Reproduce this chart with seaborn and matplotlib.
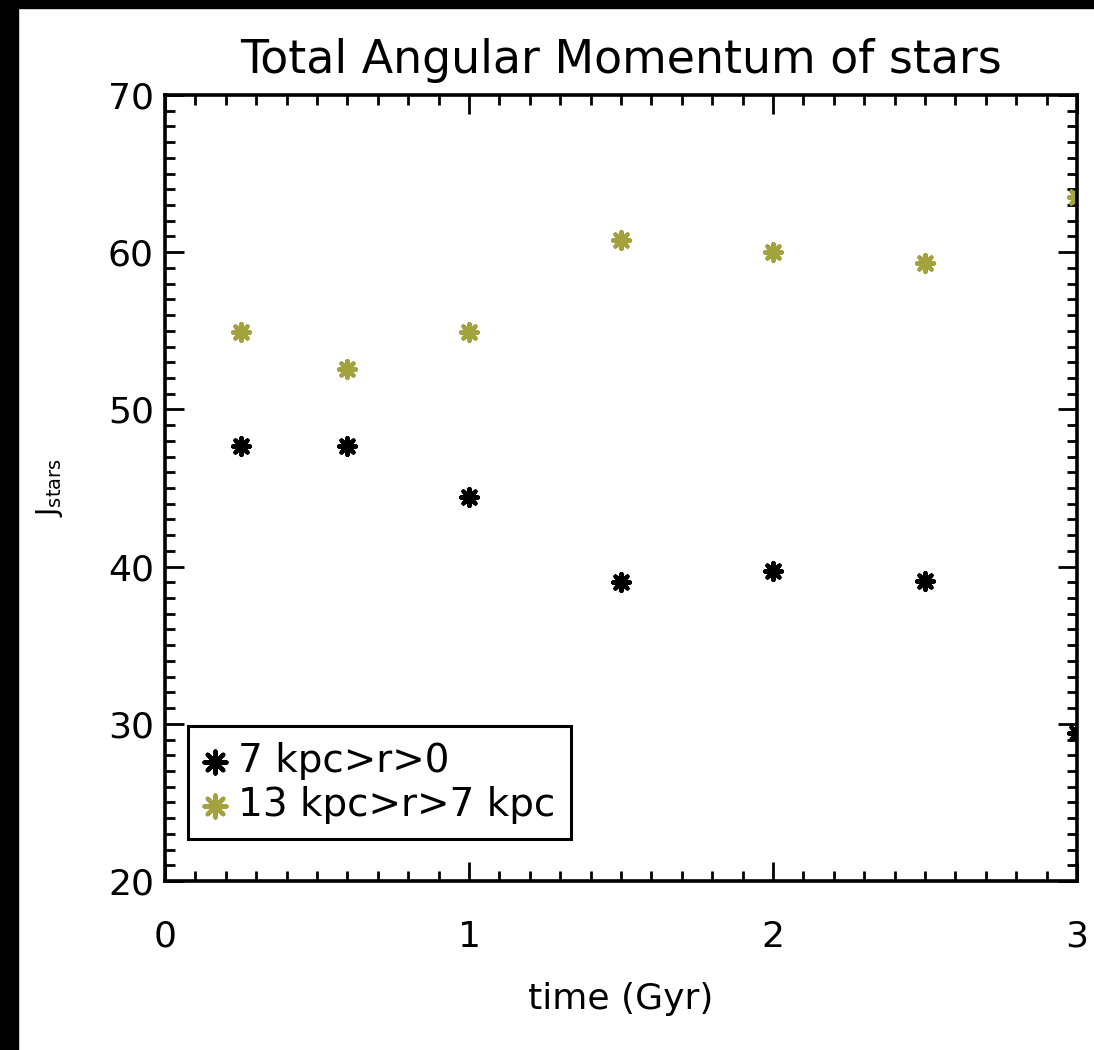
import matplotlib
matplotlib.use("Agg")
import matplotlib.pyplot as plt
from matplotlib.patches import Rectangle
from matplotlib.ticker import MultipleLocator
import seaborn as sns
import pandas as pd

# ---- data ----
time_gyr = [0.25, 0.6, 1.0, 1.5, 2.0, 2.5, 3.0]
j_inner = [47.7, 47.7, 44.4, 39.0, 39.7, 39.1, 29.4]   # 7 kpc > r > 0
j_outer = [54.9, 52.6, 54.9, 60.8, 60.0, 59.3, 63.5]   # 13 kpc > r > 7 kpc
label_inner = "7 kpc>r>0"
label_outer = "13 kpc>r>7 kpc"
title = "Total Angular Momentum of stars"
xlabel = "time (Gyr)"
ylabel = r"J$_{\rm stars}$"

sns.set_theme(style="ticks")
plt.rcParams["font.family"] = ["DejaVu Sans"]
plt.rcParams.update({
    "xtick.direction": "in", "ytick.direction": "in",
    "xtick.top": True, "ytick.right": True,
    "text.color": "black",
})

W, H, DPI = 1094, 1050, 100
fig = plt.figure(figsize=(W / DPI, H / DPI), dpi=DPI, facecolor="white")
ax = fig.add_axes([165 / W, 1 - 881 / H, (1077 - 165) / W, (881 - 95) / H])

df = pd.DataFrame({"time": time_gyr, "inner": j_inner, "outer": j_outer})
star = (8, 2, 0)
sns.scatterplot(data=df, x="time", y="inner", ax=ax, marker=star, s=150,
                color="black", linewidth=3.0, label=label_inner)
sns.scatterplot(data=df, x="time", y="outer", ax=ax, marker=star, s=150,
                color="#a3a23c", linewidth=3.0, label=label_outer)

ax.set_xlim(0, 3)
ax.set_ylim(20, 70)
ax.xaxis.set_major_locator(MultipleLocator(1))
ax.xaxis.set_minor_locator(MultipleLocator(0.1))
ax.yaxis.set_major_locator(MultipleLocator(10))
ax.yaxis.set_minor_locator(MultipleLocator(1))
ax.tick_params(which="major", length=14, width=2, color="black",
               labelsize=26, labelcolor="black")
ax.tick_params(which="minor", length=7, width=2, color="black",
               top=True, right=True)
ax.tick_params(axis="x", which="major", pad=28)
ax.tick_params(axis="y", which="major", pad=8)
for sp in ax.spines.values():
    sp.set_linewidth(2.6)
    sp.set_color("black")

ax.set_title(title, fontsize=33, pad=16, color="black")
ax.set_xlabel(xlabel, fontsize=26, labelpad=20, color="black")
ax.set_ylabel(ylabel, fontsize=20, color="black")
ax.yaxis.set_label_coords(-0.11, 0.5)

leg = ax.legend(loc="lower left", bbox_to_anchor=(0.025, 0.053),
                borderaxespad=0, fontsize=28, frameon=True, fancybox=False,
                markerscale=1.3, handlelength=0.6, handletextpad=0.3,
                labelspacing=0.15, borderpad=0.4, labelcolor="black")
leg.get_frame().set_edgecolor("black")
leg.get_frame().set_linewidth(2.2)
leg.get_frame().set_alpha(1)

# black border strips from the scanned original
fig.add_artist(Rectangle((0, 0), 18 / W, 1, transform=fig.transFigure,
                         color="black", zorder=10))
fig.add_artist(Rectangle((0, 1 - 8 / H), 1, 8 / H, transform=fig.transFigure,
                         color="black", zorder=10))

fig.savefig("out.png", dpi=DPI, facecolor="white")
